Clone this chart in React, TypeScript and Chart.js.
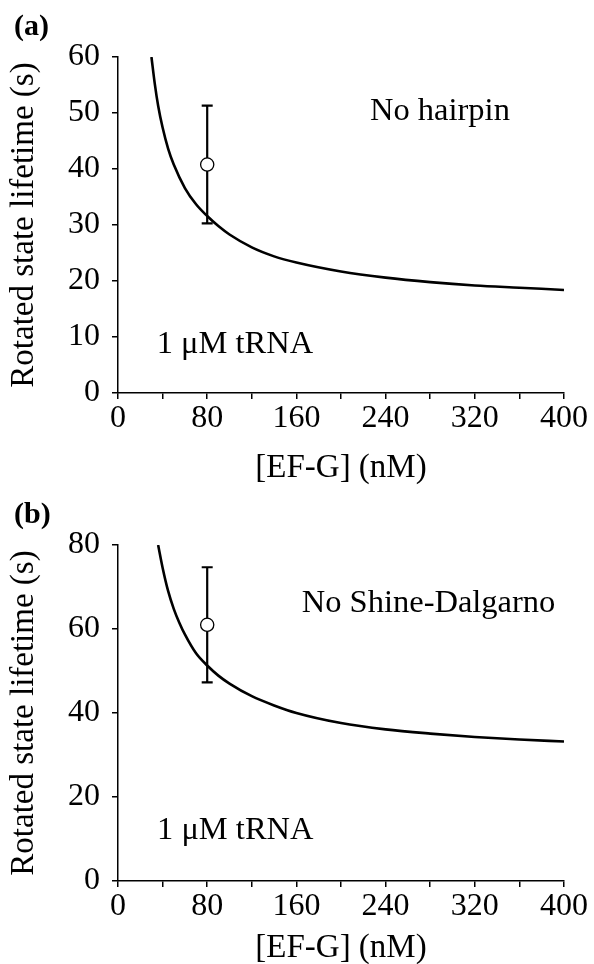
import React, { useEffect, useRef } from 'react';
import { Chart, registerables } from 'chart.js';

Chart.register(...registerables);

// ---------- data ----------
const X_TICKS = [0, 80, 160, 240, 320, 400];
const X_MINOR_STEP = 40;
const X_MIN = 0;
const X_MAX = 400;

const Y_MAX_A = 60;
const Y_STEP_A = 10;
const Y_MAX_B = 80;
const Y_STEP_B = 20;

// Panel (a): No hairpin — fitted curve
const FIT_EFG_A = [30, 33, 36, 40, 45, 50, 60, 70, 80, 90, 100, 120, 140, 160, 200, 240, 280, 320, 360, 400];
const FIT_LIFETIME_A = [60, 55.2, 51.3, 47.4, 43.6, 40.8, 36.6, 33.7, 31.6, 29.8, 28.3, 26.0, 24.4, 23.3, 21.7, 20.6, 19.8, 19.2, 18.8, 18.4];
const POINT_EFG_A = [80];
const POINT_LIFETIME_A = [40.8];
const POINT_LOW_A = [30.3];
const POINT_HIGH_A = [51.3];

// Panel (b): No Shine-Dalgarno
const FIT_EFG_B = [36, 40, 45, 50, 55, 60, 70, 80, 90, 100, 120, 140, 160, 200, 240, 280, 320, 360, 400];
const FIT_LIFETIME_B = [80, 74.6, 69.0, 64.8, 61.5, 58.7, 54.2, 51.3, 48.9, 47.0, 44.0, 41.8, 40.0, 37.6, 36.1, 35.1, 34.3, 33.7, 33.2];
const POINT_EFG_B = [80];
const POINT_LIFETIME_B = [61];
const POINT_LOW_B = [47.3];
const POINT_HIGH_B = [74.7];

const X_TITLE = '[EF-G] (nM)';
const Y_TITLE = 'Rotated state lifetime (s)';
const TRNA_LABEL = '1 \u03BCM tRNA';

// ---------- styling ----------
const FONT = "'Liberation Serif', 'Times New Roman', Times, serif";
const INK = '#000';

type TextItem = { text: string; x: number; y: number; data: boolean; size: number; bold?: boolean };

const textPlugin = {
  id: 'panelText',
  afterDraw(chart: any, _args: any, opts: any) {
    const { ctx, scales } = chart;
    ctx.save();
    for (const t of (opts.items || []) as TextItem[]) {
      ctx.font = `${t.bold ? 'bold ' : ''}${t.size}px ${FONT}`;
      ctx.fillStyle = INK;
      ctx.textAlign = 'left';
      ctx.textBaseline = 'alphabetic';
      const px = t.data ? scales.x.getPixelForValue(t.x) : t.x;
      const py = t.data ? scales.y.getPixelForValue(t.y) : t.y;
      ctx.fillText(t.text, px, py);
    }
    ctx.restore();
  },
};

const errorBarPlugin = {
  id: 'errorBars',
  beforeDatasetsDraw(chart: any, _args: any, opts: any) {
    const { ctx, scales } = chart;
    const xs: number[] = opts.x || [];
    const lows: number[] = opts.low || [];
    const highs: number[] = opts.high || [];
    ctx.save();
    ctx.strokeStyle = INK;
    ctx.lineWidth = 2.2;
    ctx.lineCap = 'butt';
    for (let i = 0; i < xs.length; i++) {
      const px = scales.x.getPixelForValue(xs[i]);
      const pl = scales.y.getPixelForValue(lows[i]);
      const ph = scales.y.getPixelForValue(highs[i]);
      const cap = 5.5;
      ctx.beginPath();
      ctx.moveTo(px, pl);
      ctx.lineTo(px, ph);
      ctx.moveTo(px - cap, ph);
      ctx.lineTo(px + cap, ph);
      ctx.moveTo(px - cap, pl);
      ctx.lineTo(px + cap, pl);
      ctx.stroke();
    }
    ctx.restore();
  },
};

type PanelSpec = {
  top: number;
  height: number;
  pad: { top: number; right: number; bottom: number; left: number };
  xHeight: number;
  xTitlePadBottom: number;
  yMax: number;
  yStep: number;
  fitX: number[];
  fitY: number[];
  ptX: number[];
  ptY: number[];
  low: number[];
  high: number[];
  texts: TextItem[];
};

const PANELS: PanelSpec[] = [
  {
    top: 0,
    height: 490,
    pad: { top: 57, right: 30, bottom: 2, left: 0 },
    xHeight: 95,
    xTitlePadBottom: 0,
    yMax: Y_MAX_A,
    yStep: Y_STEP_A,
    fitX: FIT_EFG_A,
    fitY: FIT_LIFETIME_A,
    ptX: POINT_EFG_A,
    ptY: POINT_LIFETIME_A,
    low: POINT_LOW_A,
    high: POINT_HIGH_A,
    texts: [
      { text: 'No hairpin', x: 226, y: 48.75, data: true, size: 32.5 },
      { text: TRNA_LABEL, x: 34.7, y: 7.1, data: true, size: 32.5 },
      { text: '(a)', x: 14, y: 35, data: false, size: 30, bold: true },
    ],
  },
  {
    top: 480,
    height: 494,
    pad: { top: 65, right: 30, bottom: 0, left: 0 },
    xHeight: 93,
    xTitlePadBottom: 6.2,
    yMax: Y_MAX_B,
    yStep: Y_STEP_B,
    fitX: FIT_EFG_B,
    fitY: FIT_LIFETIME_B,
    ptX: POINT_EFG_B,
    ptY: POINT_LIFETIME_B,
    low: POINT_LOW_B,
    high: POINT_HIGH_B,
    texts: [
      { text: 'No Shine-Dalgarno', x: 164.8, y: 64.1, data: true, size: 32.5 },
      { text: TRNA_LABEL, x: 35, y: 9.9, data: true, size: 32.5 },
      { text: '(b)', x: 14, y: 43, data: false, size: 30, bold: true },
    ],
  },
];

function makeConfig(p: PanelSpec): any {
  const tickFont = { family: FONT, size: 32 };
  const titleFont = { family: FONT, size: 33 };
  return {
    type: 'scatter',
    data: {
      datasets: [
        {
          data: p.fitX.map((x, i) => ({ x, y: p.fitY[i] })),
          showLine: true,
          borderColor: INK,
          borderWidth: 2.6,
          pointRadius: 0,
          cubicInterpolationMode: 'monotone',
          fill: false,
        },
        {
          data: p.ptX.map((x, i) => ({ x, y: p.ptY[i] })),
          showLine: false,
          pointRadius: 6.6,
          pointBackgroundColor: '#fff',
          pointBorderColor: INK,
          pointBorderWidth: 1.3,
        },
      ],
    },
    options: {
      responsive: false,
      animation: false,
      devicePixelRatio: 1,
      layout: { padding: p.pad },
      plugins: {
        legend: { display: false },
        tooltip: { enabled: false },
        panelText: { items: p.texts },
        errorBars: { x: p.ptX, low: p.low, high: p.high },
      },
      scales: {
        x: {
          type: 'linear',
          min: X_MIN,
          max: X_MAX,
          afterFit: (s: any) => {
            s.height = p.xHeight;
          },
          ticks: {
            stepSize: X_MINOR_STEP,
            autoSkip: false,
            maxRotation: 0,
            padding: 0,
            color: INK,
            font: tickFont,
            callback: (v: number) => (X_TICKS.includes(v) ? String(v) : ''),
          },
          grid: {
            drawOnChartArea: false,
            drawTicks: true,
            tickLength: 6,
            color: INK,
            lineWidth: 1.5,
          },
          border: { display: true, color: INK, width: 1.5 },
          title: {
            display: true,
            text: X_TITLE,
            color: INK,
            font: titleFont,
            padding: { top: 0, bottom: p.xTitlePadBottom },
          },
        },
        y: {
          type: 'linear',
          min: 0,
          max: p.yMax,
          afterFit: (s: any) => {
            s.width = 118;
          },
          ticks: {
            stepSize: p.yStep,
            padding: 12,
            color: INK,
            font: tickFont,
          },
          grid: {
            drawOnChartArea: false,
            drawTicks: true,
            tickLength: 6,
            color: INK,
            lineWidth: 1.5,
          },
          border: { display: true, color: INK, width: 1.5 },
          title: {
            display: true,
            text: Y_TITLE,
            color: INK,
            font: titleFont,
            padding: { top: 5, bottom: 0 },
          },
        },
      },
    },
    plugins: [textPlugin, errorBarPlugin],
  };
}

function Panel({ spec }: { spec: PanelSpec }) {
  const ref = useRef<HTMLCanvasElement | null>(null);
  useEffect(() => {
    if (!ref.current) return;
    const chart = new Chart(ref.current, makeConfig(spec));
    return () => chart.destroy();
  }, [spec]);
  return (
    <canvas
      ref={ref}
      width={594}
      height={spec.height}
      style={{ position: 'absolute', left: 0, top: spec.top, width: 594, height: spec.height }}
    />
  );
}

export default function App() {
  return (
    <div
      style={{
        position: 'fixed',
        left: 0,
        top: 0,
        width: 594,
        height: 964,
        overflow: 'hidden',
        background: '#fff',
      }}
    >
      {PANELS.map((p, i) => (
        <Panel key={i} spec={p} />
      ))}
    </div>
  );
}
